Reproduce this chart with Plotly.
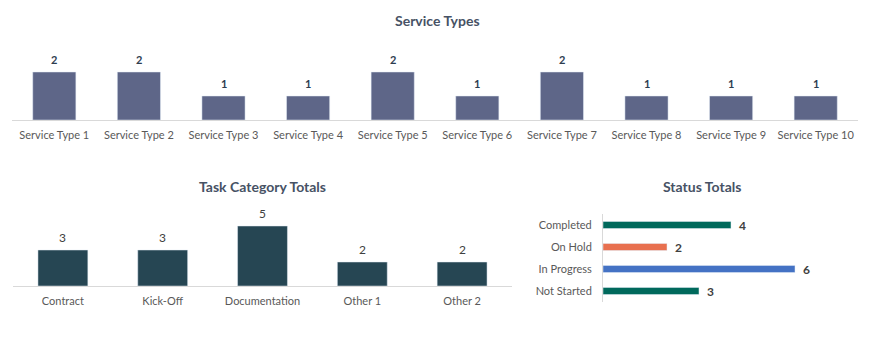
import plotly.graph_objects as go

# Service types
service_types = [f"Service Type {i}" for i in range(1, 11)]
service_counts = [2, 2, 1, 1, 2, 1, 2, 1, 1, 1]

# Task categories
task_categories = ["Contract", "Kick-Off", "Documentation", "Other 1", "Other 2"]
task_counts = [3, 3, 5, 2, 2]

# Status (listed bottom-to-top on the axis)
statuses = ["Not Started", "In Progress", "On Hold", "Completed"]
status_counts = [3, 6, 2, 4]
status_colors = ["#00695c", "#4472c4", "#e8704f", "#00695c"]

FONT = "Lato"
W, H = 874, 337
TICK_COLOR = "#595959"
AXIS_COLOR = "#d9d9d9"

fig = go.Figure()

fig.add_trace(go.Bar(x=service_types, y=service_counts, marker_color="#5e6688",
                     width=0.51, xaxis="x", yaxis="y", hoverinfo="x+y"))
fig.add_trace(go.Bar(x=task_categories, y=task_counts, marker_color="#264653",
                     width=0.5, xaxis="x2", yaxis="y2", hoverinfo="x+y"))
fig.add_trace(go.Bar(y=statuses, x=status_counts, orientation="h",
                     marker_color=status_colors, width=0.32,
                     xaxis="x3", yaxis="y3", hoverinfo="x+y"))

annotations = []
for c, v in zip(service_types, service_counts):
    annotations.append(dict(x=c, y=v, xref="x", yref="y", text=f"<b>{v}</b>",
                            showarrow=False, yanchor="middle", yshift=13,
                            font=dict(family=FONT, size=11, color="#2e3d4f")))
for c, v in zip(task_categories, task_counts):
    annotations.append(dict(x=c, y=v, xref="x2", yref="y2", text=f"{v}",
                            showarrow=False, yanchor="middle", yshift=13,
                            font=dict(family=FONT, size=12, color="#404040")))
for c, v in zip(statuses, status_counts):
    annotations.append(dict(x=v, y=c, xref="x3", yref="y3", text=f"<b>{v}</b>",
                            showarrow=False, xanchor="center", xshift=11,
                            font=dict(family=FONT, size=12, color="#404040")))

# Chart titles
for text, x, y in [("Service Types", 437, 20), ("Task Category Totals", 262, 187),
                   ("Status Totals", 702, 187)]:
    annotations.append(dict(x=x / W, y=1 - y / H, xref="paper", yref="paper",
                            text=f"<b>{text}</b>", showarrow=False,
                            xanchor="center", yanchor="middle",
                            font=dict(family=FONT, size=14, color="#475265")))


def px_x(p):
    return p / W


def px_y(p):
    return 1 - p / H


cat_axis = dict(showgrid=False, zeroline=False, showline=True, linecolor=AXIS_COLOR,
                linewidth=1, ticks="outside", ticklen=5, tickcolor="rgba(0,0,0,0)",
                tickfont=dict(family=FONT, size=11, color=TICK_COLOR), fixedrange=True)
val_axis = dict(showgrid=False, zeroline=False, showline=False, showticklabels=False,
                fixedrange=True)

fig.update_layout(
    width=W, height=H,
    margin=dict(l=0, r=0, t=0, b=0),
    paper_bgcolor="white", plot_bgcolor="white",
    showlegend=False,
    font=dict(family=FONT),
    xaxis=dict(cat_axis, domain=[px_x(12), px_x(858)], anchor="y"),
    yaxis=dict(val_axis, domain=[px_y(120), px_y(60)], range=[0, 2.5], anchor="x"),
    xaxis2=dict(cat_axis, domain=[px_x(13), px_x(512)], anchor="y2"),
    yaxis2=dict(val_axis, domain=[px_y(286), px_y(214)], range=[0, 6], anchor="x2"),
    xaxis3=dict(val_axis, domain=[px_x(603), px_x(827)], range=[0, 7], anchor="y3"),
    yaxis3=dict(cat_axis, domain=[px_y(302), px_y(214)], anchor="x3", ticklen=8),
    annotations=annotations,
    bargap=0.5,
)

fig.write_html("out.html")
